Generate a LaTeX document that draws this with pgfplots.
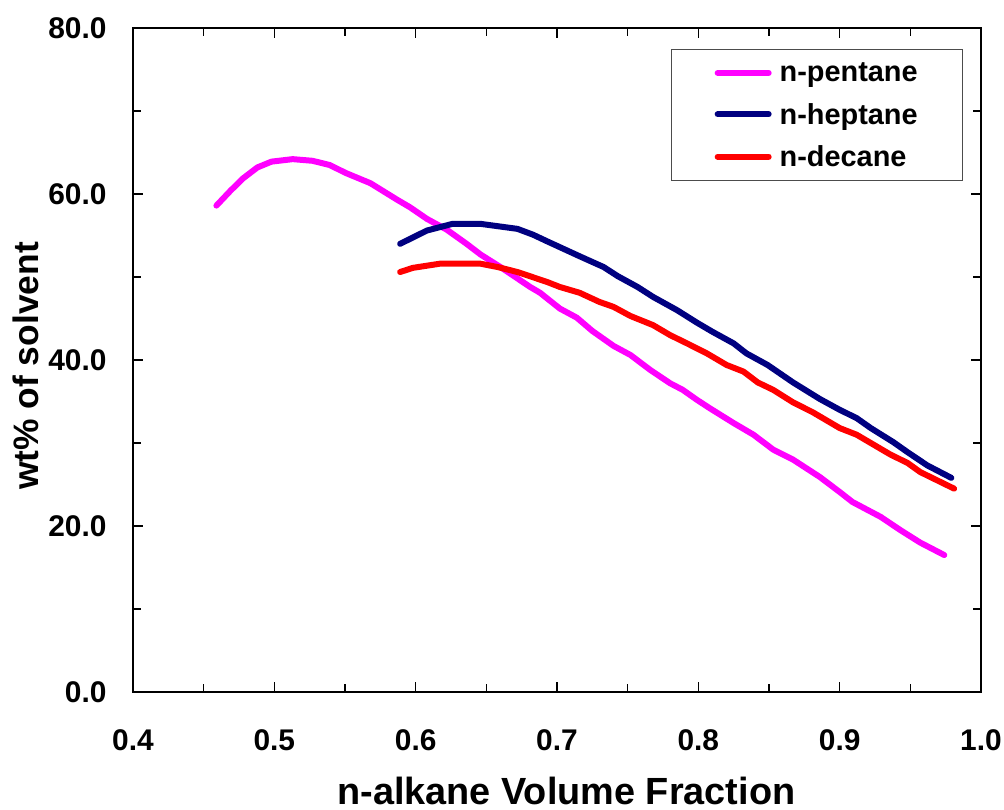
\documentclass[border=0pt]{standalone}
\usepackage{fontspec}
\setmainfont{Liberation Sans}
\usepackage{pgfplots}
\pgfplotsset{compat=1.18}
\definecolor{cpink}{RGB}{255,0,255}
\definecolor{cnavy}{RGB}{0,0,128}
\definecolor{cred}{RGB}{255,0,0}
\begin{document}
\begin{tikzpicture}
\path[use as bounding box] (0,0) rectangle (1004bp,810bp);
\begin{axis}[
  at={(133bp,118bp)}, anchor=south west,
  scale only axis, width=848bp, height=664bp,
  xmin=0.4, xmax=1.0, ymin=0, ymax=80,
  xtick={0.4,0.5,...,1.0}, ytick={0,20,40,60,80},
  minor x tick num=1, minor y tick num=1,
  tick align=inside,
  major tick length=10bp, minor tick length=8bp,
  every tick/.style={black, line width=1.2bp},
  axis line style={line width=2bp},
  /pgf/number format/assume math mode=true,
  xticklabel style={font=\fontsize{30}{36}\selectfont\bfseries, yshift=-34bp,
    /pgf/number format/.cd, fixed, fixed zerofill, precision=1},
  yticklabel style={font=\fontsize{30}{36}\selectfont\bfseries, xshift=-23bp,
    /pgf/number format/.cd, fixed, fixed zerofill, precision=1},
  xlabel={n-alkane Volume Fraction},
  ylabel={wt\% of solvent},
  every axis x label/.style={at={(axis description cs:0.511,0)}, anchor=base, yshift=-112bp,
    font=\fontsize{38}{44}\selectfont\bfseries},
  every axis y label/.style={at={(axis description cs:0,0.491)}, xshift=-94bp, rotate=90, anchor=base,
    font=\fontsize{35.5}{42}\selectfont\bfseries},
  legend style={at={(axis description cs:0.979,0.968)}, anchor=north east,
    draw=black!70, line width=1bp, font=\fontsize{29}{34}\selectfont\bfseries,
    inner xsep=43bp, inner ysep=11bp, row sep=16bp},
  legend cell align=left,
  legend image code/.code={\path[draw=none, fill=none] (0bp,0bp) -- (63bp,0bp);\draw[#1, line width=6bp, line cap=round] (3bp,0bp) -- (54bp,0bp);},
]
\addplot[cpink, line width=6bp, line cap=round, line join=round] coordinates {
(0.459,58.6) (0.469,60.4) (0.478,61.9) (0.488,63.2) (0.498,63.9) (0.513,64.2)
(0.527,64.0) (0.539,63.5) (0.551,62.5) (0.568,61.3) (0.587,59.3) (0.596,58.4)
(0.608,57.0) (0.622,55.7) (0.636,54.0) (0.646,52.7) (0.660,51.2) (0.681,48.8)
(0.688,48.1) (0.702,46.2) (0.714,45.1) (0.725,43.5) (0.740,41.7) (0.752,40.6)
(0.766,38.8) (0.780,37.2) (0.789,36.4) (0.799,35.2) (0.808,34.2) (0.825,32.4)
(0.839,31.0) (0.853,29.2) (0.867,28.0) (0.886,25.9) (0.900,24.1) (0.909,22.9)
(0.929,21.1) (0.943,19.5) (0.957,18.0) (0.974,16.5)
};
\addlegendentry{n-pentane}
\addplot[cnavy, line width=6bp, line cap=round, line join=round] coordinates {
(0.589,54.0) (0.608,55.6) (0.626,56.4) (0.646,56.4) (0.672,55.8) (0.683,55.1)
(0.693,54.3) (0.716,52.5) (0.733,51.2) (0.743,50.1) (0.757,48.8) (0.768,47.6)
(0.785,46.0) (0.799,44.5) (0.810,43.4) (0.825,42.0) (0.834,40.8) (0.849,39.4)
(0.867,37.3) (0.886,35.3) (0.900,34.0) (0.912,33.0) (0.922,31.8) (0.938,30.1)
(0.948,28.9) (0.962,27.3) (0.979,25.8)
};
\addlegendentry{n-heptane}
\addplot[cred, line width=6bp, line cap=round, line join=round] coordinates {
(0.589,50.6) (0.598,51.1) (0.617,51.6) (0.646,51.6) (0.658,51.2) (0.672,50.6)
(0.693,49.4) (0.702,48.8) (0.716,48.1) (0.730,47.0) (0.740,46.4) (0.752,45.3)
(0.768,44.2) (0.780,43.0) (0.792,42.0) (0.806,40.8) (0.820,39.4) (0.832,38.6)
(0.842,37.3) (0.853,36.4) (0.867,34.9) (0.881,33.7) (0.900,31.8) (0.912,31.0)
(0.922,30.0) (0.936,28.6) (0.948,27.6) (0.957,26.5) (0.981,24.5)
};
\addlegendentry{n-decane}
\end{axis}
\end{tikzpicture}
\end{document}
